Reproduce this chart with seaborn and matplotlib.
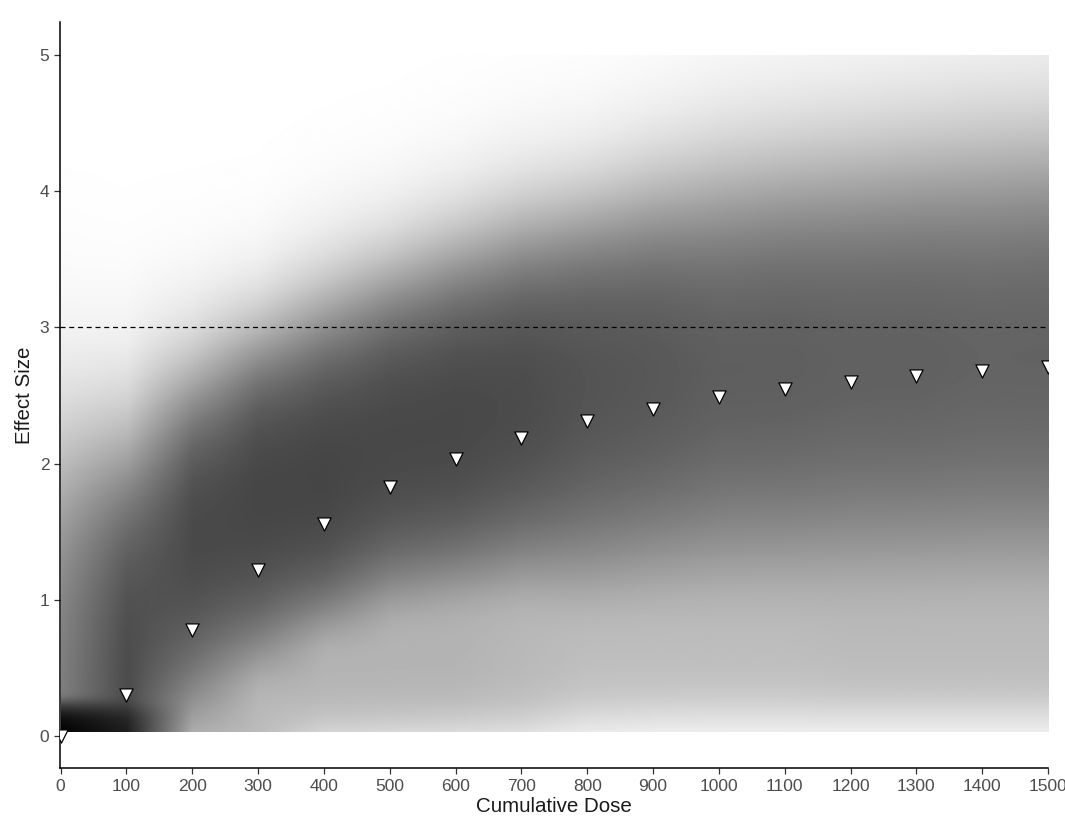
import numpy as np
import pandas as pd
import seaborn as sns
import matplotlib.pyplot as plt

# Doses where the effect was summarised (one column of the shading each)
doses = [0, 100, 200, 300, 400, 500, 600, 700, 800, 900, 1000, 1100, 1200, 1300, 1400, 1500]
# Central effect size (white triangles)
effect = [0.00, 0.30, 0.78, 1.22, 1.56, 1.83, 2.03, 2.19, 2.31, 2.40, 2.49, 2.55, 2.60, 2.64, 2.68, 2.71]

# Shading, per dose (darkness 0 = white, 1 = black)
band_dark = [0.52, 0.72, 0.76, 0.75, 0.75, 0.74, 0.74, 0.73, 0.70, 0.69, 0.67, 0.67, 0.66, 0.66, 0.65, 0.65]
band_top = [2.00, 2.05, 2.54, 2.86, 3.10, 3.32, 3.50, 3.66, 3.78, 3.89, 3.98, 4.04, 4.09, 4.13, 4.17, 4.20]
band_top_w = [0.45, 0.38, 0.31, 0.27, 0.29, 0.28, 0.29, 0.30, 0.30, 0.33, 0.36, 0.37, 0.38, 0.39, 0.40, 0.40]
band_bot = [-1.0, -1.0, 0.15, 0.53, 0.79, 0.98, 1.06, 1.13, 1.10, 1.14, 1.16, 1.17, 1.17, 1.18, 1.18, 1.18]
band_bot_w = [0.30, 0.30, 0.40, 0.30, 0.26, 0.29, 0.30, 0.34, 0.40, 0.43, 0.46, 0.47, 0.48, 0.48, 0.48, 0.48]
floor_dark = [0.0, 0.0, 0.0, 0.28, 0.30, 0.30, 0.30, 0.28, 0.26, 0.26, 0.26, 0.26, 0.27, 0.27, 0.27, 0.27]
floor_bot = [0.0, 0.0, 0.0, -0.30, 0.00, 0.02, 0.04, 0.05, 0.12, 0.14, 0.15, 0.15, 0.15, 0.15, 0.15, 0.15]
core_dark = [1.0, 0.85, 0.0, 0.0, 0.0, 0.0, 0.0, 0.0, 0.0, 0.0, 0.0, 0.0, 0.0, 0.0, 0.0, 0.0]

sns.set_style('ticks')
plt.rcParams['font.family'] = ['Liberation Sans', 'DejaVu Sans']

fig = plt.figure(figsize=(10.65, 8.16), dpi=100, facecolor='white')
ax = fig.add_axes([60 / 1065, 48 / 816, 988 / 1065, 746 / 816])


def sig(u):
    return 1.0 / (1.0 + np.exp(-u))


# build each column of the shading from the values above
y = np.linspace(0.03, 5.0, 700)
cols = []
for i in range(len(doses)):
    band = band_dark[i] * sig((band_top[i] - y) / band_top_w[i]) * sig((y - band_bot[i]) / band_bot_w[i])
    mid = (band_top[i] + band_bot[i]) / 2
    floor = floor_dark[i] * sig((y - floor_bot[i]) / 0.12) * sig((mid - y) / 0.3)
    core = core_dark[i] * sig((0.28 - y) / 0.06)
    # soft maximum so the layers blend without a visible seam
    cols.append((band ** 6 + floor ** 6 + core ** 6) ** (1 / 6))
shade = np.column_stack(cols)

# blend linearly between the dose columns at screen resolution
xs = np.linspace(0, 1500, 1000)
raster = np.vstack([np.interp(xs, doses, row) for row in shade])

ax.imshow(raster, origin='lower', aspect='auto', cmap='gray_r', vmin=0, vmax=1,
          interpolation='antialiased', extent=(0, 1500, y[0], y[-1]), zorder=1)

# reference line
ax.axhline(3, color='black', lw=0.9, ls=(0, (4, 3)), zorder=2)

# central estimates
df = pd.DataFrame({'dose': doses, 'effect': effect})
sns.scatterplot(data=df, x='dose', y='effect', marker='v', s=90, color='white',
                edgecolor='black', linewidth=0.9, ax=ax, zorder=3)

ax.set_xlim(-1, 1500)
ax.set_ylim(-0.235, 5.242)
ax.set_xticks(range(0, 1501, 100))
ax.set_yticks(range(0, 6))
ax.tick_params(axis='both', length=4.5, width=0.9, color='#333333',
               labelcolor='#4d4d4d', labelsize=12.5, pad=3.2)
sns.despine(ax=ax)
for s in ['left', 'bottom']:
    ax.spines[s].set_linewidth(1.1)
    ax.spines[s].set_color('black')

ax.set_xlabel('Cumulative Dose', fontsize=14.8, color='#1a1a1a', labelpad=2.5)
ax.set_ylabel('Effect Size', fontsize=14.8, color='#1a1a1a', labelpad=4)

fig.savefig('out.png', dpi=100, facecolor='white')
